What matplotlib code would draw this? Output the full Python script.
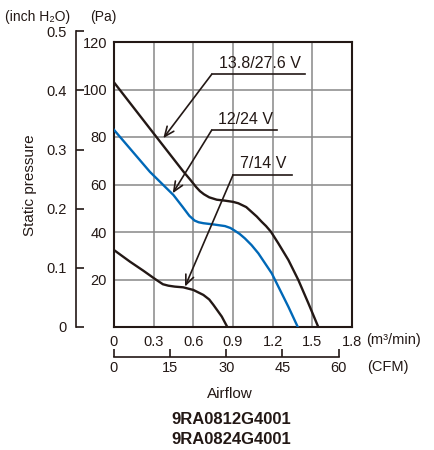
import matplotlib
matplotlib.use("Agg")
import matplotlib.pyplot as plt
from matplotlib import font_manager as fm

names = {f.name for f in fm.fontManager.ttflist}
NARROW = "Liberation Sans Narrow" if "Liberation Sans Narrow" in names else "Liberation Sans"
plt.rcParams['font.family'] = [NARROW, 'DejaVu Sans']

# ---- data ----
x_1382 = [0, 0.3, 0.524, 0.58, 0.62, 0.65, 0.68, 0.72, 0.777, 0.839, 0.9, 0.94,
          1.0, 1.04, 1.08, 1.117, 1.15, 1.187, 1.243, 1.319, 1.394, 1.47, 1.545]
y_1382 = [103, 81.5, 65.5, 61.8, 59.0, 57.2, 55.9, 54.6, 53.6, 53.2, 52.7, 52.1,
          50.5, 48.5, 46.5, 44.3, 42.5, 40.1, 35.2, 28.2, 19.8, 10, 0]
x_1224 = [0, 0.272, 0.449, 0.52, 0.57, 0.61, 0.64, 0.676, 0.75, 0.839, 0.88, 0.915,
          0.95, 0.99, 1.04, 1.092, 1.193, 1.243, 1.319, 1.39]
y_1224 = [83, 65.3, 55.6, 50.5, 46.8, 44.8, 44.1, 43.7, 43.2, 42.5, 41.7, 40.5,
          39.2, 37.3, 34.5, 31, 22.6, 17, 8.5, 0]
x_714 = [0, 0.121, 0.222, 0.303, 0.34, 0.37, 0.411, 0.46, 0.524, 0.6, 0.676,
         0.72, 0.752, 0.815, 0.857]
y_714 = [32.4, 27.5, 23.7, 20.5, 19.1, 18.0, 17.4, 17.0, 16.7, 15.6, 13.5,
         11.6, 9.3, 4.4, 0]
series_labels = ["13.8/27.6 V", "12/24 V", "7/14 V"]
x_ticks = [0, 0.3, 0.6, 0.9, 1.2, 1.5, 1.8]
x_ticklabels = ["0", "0.3", "0.6", "0.9", "1.2", "1.5", "1.8"]
pa_ticks = [20, 40, 60, 80, 100, 120]
inch_ticks = [0, 0.1, 0.2, 0.3, 0.4, 0.5]
cfm_ticks = [0, 15, 30, 45, 60]

PA_PER_INCH = 249.089
CFM_PER_M3MIN = 35.3147
BLACK = "#231815"
BLUE = "#0068b7"

W, H = 435, 450
fig = plt.figure(figsize=(W / 100, H / 100), dpi=100)

def box(x0, y0, x1, y1):
    return [x0 / W, 1 - y1 / H, (x1 - x0) / W, (y1 - y0) / H]

# main axes
ax = fig.add_axes(box(114, 42, 352, 327))
ax.set_xlim(0, 1.8)
ax.set_ylim(0, 120)
ax.set_xticks(x_ticks)
ax.set_xticklabels(x_ticklabels)
ax.set_yticks(pa_ticks)
ax.tick_params(axis='both', length=0, labelsize=10.5, colors=BLACK)
ax.tick_params(axis='x', pad=6)
ax.tick_params(axis='y', pad=5)
ax.grid(True, color="#888888", linewidth=1.1)
ax.set_axisbelow(True)
for s in ax.spines.values():
    s.set_linewidth(1.5)
    s.set_color(BLACK)

ax.plot(x_1382, y_1382, color=BLACK, lw=1.7, solid_joinstyle='round', zorder=3)
ax.plot(x_1224, y_1224, color=BLUE, lw=1.7, solid_joinstyle='round', zorder=3)
ax.plot(x_714, y_714, color=BLACK, lw=1.7, solid_joinstyle='round', zorder=3)

# annotations: (label, underline y, underline x0, x1, arrow tip)
ann = [
    (series_labels[0], 106.4, 0.739, 1.445, (0.373, 79.5)),
    (series_labels[1], 82.9, 0.739, 1.231, (0.444, 56.3)),
    (series_labels[2], 64.0, 0.90, 1.344, (0.537, 17.0)),
]
for label, uy, ux0, ux1, tip in ann:
    ax.plot([ux0, ux1], [uy, uy], color=BLACK, lw=1.2, zorder=4)
    ax.annotate("", xy=tip, xytext=(ux0, uy),
                arrowprops=dict(arrowstyle="->,head_length=0.7,head_width=0.3",
                                color=BLACK, lw=1.2, shrinkA=0, shrinkB=0), zorder=4)
    ax.text((ux0 + ux1) / 2 + 0.01, uy + 1.5, label, ha='center', va='bottom',
            fontsize=11.5, color=BLACK, zorder=5)

fig.text(366 / W, 1 - 340 / H, "(m³/min)", ha='left', va='center', fontsize=10.5, color=BLACK)

# inch H2O axis
top_in = 327 - 0.5 * PA_PER_INCH * (285 / 120)
axi = fig.add_axes(box(76, top_in, 77, 327))
axi.set_ylim(0, 0.5)
axi.set_xticks([])
axi.set_yticks(inch_ticks)
axi.set_yticklabels(["0", "0.1", "0.2", "0.3", "0.4", "0.5"])
axi.patch.set_visible(False)
for k in ['top', 'right', 'bottom']:
    axi.spines[k].set_visible(False)
axi.spines['left'].set_linewidth(1.2)
axi.spines['left'].set_color(BLACK)
axi.tick_params(axis='y', direction='in', length=6, width=1.2, labelsize=10.5,
                pad=7, colors=BLACK)
fig.text(5 / W, 1 - 17 / H, "(inch H₂O)", ha='left', va='center', fontsize=10, color=BLACK)
fig.text(90 / W, 1 - 17 / H, "(Pa)", ha='left', va='center', fontsize=10, color=BLACK)
fig.text(30 / W, 1 - 185 / H, "Static pressure", rotation=90, ha='center', va='center',
         fontsize=11, color=BLACK, family=['Liberation Sans', 'DejaVu Sans'])

# CFM axis
axc = fig.add_axes(box(114, 350, 352, 357))
axc.set_xlim(0, 1.8 * CFM_PER_M3MIN)
axc.set_yticks([])
axc.set_xticks(cfm_ticks)
axc.patch.set_visible(False)
for k in ['top', 'right', 'left']:
    axc.spines[k].set_visible(False)
axc.spines['bottom'].set_bounds(0, 60)
axc.spines['bottom'].set_linewidth(1.2)
axc.spines['bottom'].set_color(BLACK)
axc.tick_params(axis='x', direction='in', length=6, width=1.2, labelsize=10.5,
                pad=3, colors=BLACK)
fig.text(367 / W, 1 - 367 / H, "(CFM)", ha='left', va='center', fontsize=10.5, color=BLACK)

fig.text(230 / W, 1 - 394 / H, "Airflow", ha='center', va='center', fontsize=11,
         color=BLACK, family=['Liberation Sans', 'DejaVu Sans'])
fig.text(231 / W, 1 - 420 / H, "9RA0812G4001", ha='center', va='center', fontsize=12,
         fontweight='bold', color=BLACK, family=['Liberation Sans', 'DejaVu Sans'])
fig.text(231 / W, 1 - 439 / H, "9RA0824G4001", ha='center', va='center', fontsize=12,
         fontweight='bold', color=BLACK, family=['Liberation Sans', 'DejaVu Sans'])

fig.savefig("out.png", dpi=100)
